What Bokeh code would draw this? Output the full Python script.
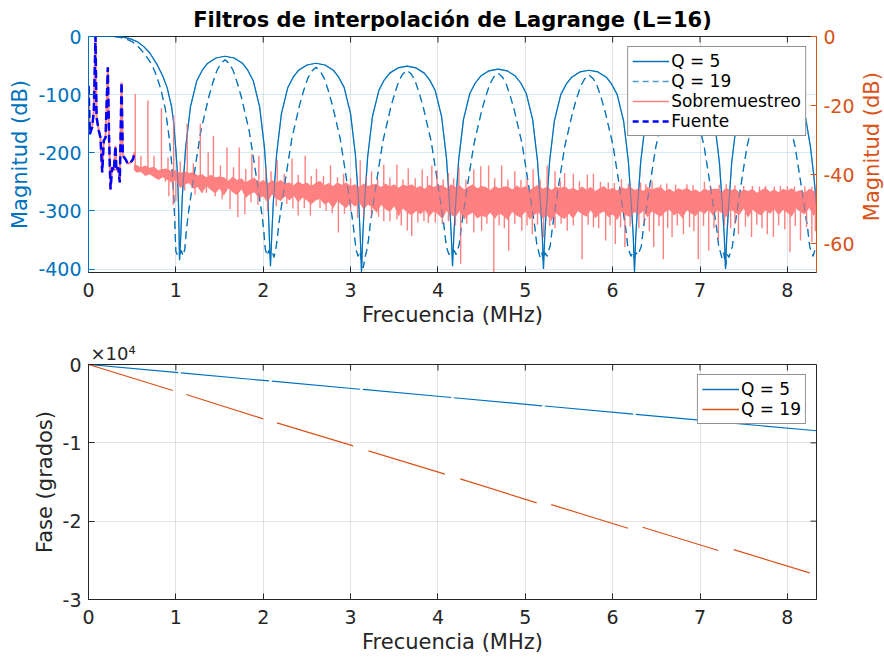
import numpy as np
from bokeh.plotting import figure
from bokeh.models import (Range1d, LinearAxis, FixedTicker, Grid, Legend, LegendItem,
                          CustomJSTickFormatter, Label)
from bokeh.layouts import column, row
from bokeh.embed import file_html
from bokeh.resources import INLINE

FONT = "DejaVu Sans"
BLUE = "#0072BD"
ORANGE = "#D95319"
DARK = "#262626"
PINK = "#FF8080"
NAN = float("nan")

# ---------------- data ----------------
title_text = "Filtros de interpolación de Lagrange (L=16)"
x_ticks = [0, 1, 2, 3, 4, 5, 6, 7, 8]
mag_ticks_left = [-400, -300, -200, -100, 0]
mag_ticks_right = [-60, -40, -20, 0]
phase_ticks = [-30000, -20000, -10000, 0]

# Q = 5 magnitude (dB), main lobe + 7 side lobes
q5_x = [0.0, 0.3, 0.4, 0.48, 0.56, 0.63, 0.7, 0.78, 0.85, 0.9, 0.95, 0.975, 1.0, 1.02, 1.032,
        1.042, 1.056, 1.073, 1.112, 1.167, 1.240, 1.302, 1.365, 1.459, 1.563, 1.667, 1.761, 1.823, 1.886, 1.959, 2.014, 2.053, 2.070,
        2.083, 2.097, 2.114, 2.153, 2.208, 2.281, 2.343, 2.406, 2.500, 2.604, 2.708, 2.802, 2.864, 2.927, 3.000, 3.055, 3.094, 3.111,
        3.125, 3.139, 3.156, 3.195, 3.250, 3.323, 3.385, 3.448, 3.542, 3.646, 3.750, 3.844, 3.906, 3.969, 4.042, 4.097, 4.136, 4.153,
        4.167, 4.181, 4.198, 4.237, 4.292, 4.365, 4.427, 4.490, 4.584, 4.688, 4.792, 4.886, 4.948, 5.011, 5.084, 5.139, 5.178, 5.195,
        5.208, 5.222, 5.239, 5.278, 5.333, 5.406, 5.468, 5.531, 5.625, 5.729, 5.833, 5.927, 5.989, 6.052, 6.125, 6.180, 6.219, 6.236,
        6.250, 6.264, 6.281, 6.320, 6.375, 6.448, 6.510, 6.573, 6.667, 6.771, 6.875, 6.969, 7.031, 7.094, 7.167, 7.222, 7.261, 7.278,
        7.292, 7.306, 7.323, 7.362, 7.417, 7.490, 7.552, 7.615, 7.709, 7.813, 7.917, 8.011, 8.073, 8.136, 8.209, 8.264, 8.303, 8.333]
q5_db = [0, 0, -1, -4, -9, -17, -28, -47, -68, -88, -120, -148, -195, -240, -300,
         -385, -345, -277, -191, -121, -76, -58, -46, -37, -34, -37, -46, -58, -76, -121, -191, -277, -345,
         -395, -345, -289, -203, -133, -88, -70, -58, -49, -46, -49, -58, -70, -88, -133, -203, -289, -345,
         -405, -345, -294, -208, -138, -93, -75, -63, -54, -51, -54, -63, -75, -93, -138, -208, -294, -345,
         -395, -345, -299, -213, -143, -98, -80, -68, -59, -56, -59, -68, -80, -98, -143, -213, -299, -345,
         -400, -345, -301, -215, -145, -100, -82, -70, -61, -58, -61, -70, -82, -100, -145, -215, -301, -345,
         -405, -345, -303, -217, -147, -102, -84, -72, -63, -60, -63, -72, -84, -102, -147, -217, -303, -345,
         -400, -345, -304, -218, -148, -103, -85, -73, -64, -61, -64, -73, -85, -103, -140, -190, -240, -290]

# Q = 19 magnitude (dB)
q19_x = [0.0, 0.25, 0.35, 0.43, 0.5, 0.56, 0.62, 0.68, 0.73, 0.78, 0.83, 0.88, 0.92, 0.95, 0.975, 0.99, 1.0, 1.02,
         1.042, 1.062, 1.082, 1.102, 1.120, 1.142, 1.198, 1.242, 1.287, 1.332, 1.375, 1.422, 1.469, 1.512, 1.563, 1.614, 1.657, 1.704, 1.751, 1.794, 1.839, 1.884, 1.928, 1.984, 2.006, 2.024, 2.044, 2.064,
         2.083, 2.103, 2.123, 2.143, 2.161, 2.183, 2.239, 2.283, 2.328, 2.373, 2.416, 2.463, 2.510, 2.553, 2.604, 2.655, 2.698, 2.745, 2.792, 2.835, 2.880, 2.925, 2.969, 3.025, 3.047, 3.065, 3.085, 3.105,
         3.125, 3.145, 3.165, 3.185, 3.203, 3.225, 3.281, 3.325, 3.370, 3.415, 3.458, 3.505, 3.552, 3.595, 3.646, 3.697, 3.740, 3.787, 3.834, 3.877, 3.922, 3.967, 4.011, 4.067, 4.089, 4.107, 4.127, 4.147,
         4.167, 4.187, 4.207, 4.227, 4.245, 4.267, 4.323, 4.367, 4.412, 4.457, 4.500, 4.547, 4.594, 4.637, 4.688, 4.739, 4.782, 4.829, 4.876, 4.919, 4.964, 5.009, 5.053, 5.109, 5.131, 5.149, 5.169, 5.189,
         5.208, 5.228, 5.248, 5.268, 5.286, 5.308, 5.364, 5.408, 5.453, 5.498, 5.541, 5.588, 5.635, 5.678, 5.729, 5.780, 5.823, 5.870, 5.917, 5.960, 6.005, 6.050, 6.094, 6.150, 6.172, 6.190, 6.210, 6.230,
         6.250, 6.270, 6.290, 6.310, 6.328, 6.350, 6.406, 6.450, 6.495, 6.540, 6.583, 6.630, 6.677, 6.720, 6.771, 6.822, 6.865, 6.912, 6.959, 7.002, 7.047, 7.092, 7.136, 7.192, 7.214, 7.232, 7.252, 7.272,
         7.292, 7.312, 7.332, 7.352, 7.370, 7.392, 7.448, 7.492, 7.537, 7.582, 7.625, 7.672, 7.719, 7.762, 7.813, 7.864, 7.907, 7.954, 8.001, 8.044, 8.089, 8.134, 8.178, 8.234, 8.256, 8.274, 8.294, 8.314, 8.333]
q19_db = [0, 0, -1, -4, -9, -16, -26, -38, -50, -68, -92, -125, -170, -215, -270, -330, -370, -376,
          -378, -368, -377, -366, -334, -305, -248, -205, -162, -133, -105, -80, -59, -47, -40, -47, -59, -80, -105, -133, -162, -205, -248, -305, -334, -366, -377, -368,
          -375, -370, -380, -367, -347, -318, -261, -218, -175, -146, -118, -93, -72, -60, -53, -60, -72, -93, -118, -146, -175, -218, -261, -318, -347, -368, -378, -370,
          -385, -398, -380, -368, -352, -323, -266, -223, -180, -151, -123, -98, -77, -65, -58, -65, -77, -98, -123, -151, -180, -223, -266, -323, -352, -367, -375, -370,
          -372, -368, -375, -366, -357, -328, -271, -228, -185, -156, -128, -103, -82, -70, -63, -70, -82, -103, -128, -156, -185, -228, -271, -328, -357, -368, -380, -372,
          -385, -372, -378, -368, -360, -331, -274, -231, -188, -159, -131, -106, -85, -73, -66, -73, -85, -106, -131, -159, -188, -231, -274, -331, -360, -370, -378, -372,
          -380, -372, -376, -368, -361, -332, -275, -232, -189, -160, -132, -107, -86, -74, -67, -74, -86, -107, -132, -160, -189, -232, -275, -332, -361, -370, -382, -372,
          -395, -375, -380, -368, -362, -333, -276, -233, -190, -161, -133, -108, -87, -75, -68, -75, -87, -108, -133, -161, -190, -233, -276, -333, -362, -370, -378, -368, -372]

# Fuente (source spectrum), dB
fuente_x = [0.0, 0.015, 0.042, 0.061, 0.08, 0.092, 0.118, 0.137, 0.157, 0.175, 0.195, 0.221, 0.236, 0.252,
            0.271, 0.29, 0.309, 0.32, 0.34, 0.358, 0.378, 0.393, 0.423, 0.45, 0.48, 0.51, 0.526]
fuente_db = [-85, -168, -156, -128, 0, -139, -162, -174, -234, -179, -174, -53, -179, -263,
             -225, -231, -188, -231, -225, -251, -79, -205, -211, -219, -217, -211, -199]

# Sobremuestreo: dense noise band (ragged upper / lower edge), plus spikes
band_x = [0.52,
          0.55, 0.60, 0.65, 0.70, 0.75, 0.80, 0.85, 0.90, 0.95, 1.00, 1.05, 1.10, 1.15, 1.20, 1.25, 1.30, 1.35, 1.40, 1.45, 1.50,
          1.55, 1.60, 1.65, 1.70, 1.75, 1.80, 1.85, 1.90, 1.95, 2.00, 2.05, 2.10, 2.15, 2.20, 2.25, 2.30, 2.35, 2.40, 2.45, 2.50,
          2.55, 2.60, 2.65, 2.70, 2.75, 2.80, 2.85, 2.90, 2.95, 3.00, 3.05, 3.10, 3.15, 3.20, 3.25, 3.30, 3.35, 3.40, 3.45, 3.50,
          3.55, 3.60, 3.65, 3.70, 3.75, 3.80, 3.85, 3.90, 3.95, 4.00, 4.05, 4.10, 4.15, 4.20, 4.25, 4.30, 4.35, 4.40, 4.45, 4.50,
          4.55, 4.60, 4.65, 4.70, 4.75, 4.80, 4.85, 4.90, 4.95, 5.00, 5.05, 5.10, 5.15, 5.20, 5.25, 5.30, 5.35, 5.40, 5.45, 5.50,
          5.55, 5.60, 5.65, 5.70, 5.75, 5.80, 5.85, 5.90, 5.95, 6.00, 6.05, 6.10, 6.15, 6.20, 6.25, 6.30, 6.35, 6.40, 6.45, 6.50,
          6.55, 6.60, 6.65, 6.70, 6.75, 6.80, 6.85, 6.90, 6.95, 7.00, 7.05, 7.10, 7.15, 7.20, 7.25, 7.30, 7.35, 7.40, 7.45, 7.50,
          7.55, 7.60, 7.65, 7.70, 7.75, 7.80, 7.85, 7.90, 7.95, 8.00, 8.05, 8.10, 8.15, 8.20, 8.25, 8.30, 8.333]
band_hi = [-221,
           -221, -225, -222, -226, -224, -230, -228, -227, -232, -230, -235, -232, -235, -233, -239, -237, -242, -238, -242, -241,
           -242, -248, -241, -247, -244, -251, -246, -243, -251, -247, -253, -247, -251, -247, -253, -251, -256, -249, -254, -251,
           -257, -252, -248, -256, -252, -257, -251, -255, -251, -257, -254, -259, -253, -257, -254, -254, -259, -253, -258, -254,
           -260, -254, -257, -254, -260, -257, -262, -255, -259, -256, -256, -261, -254, -259, -256, -263, -258, -254, -261, -257,
           -259, -264, -257, -261, -258, -258, -263, -256, -261, -257, -264, -259, -255, -262, -258, -264, -258, -261, -257, -263,
           -260, -265, -258, -263, -259, -266, -261, -257, -264, -260, -265, -259, -262, -258, -264, -261, -266, -259, -263, -260,
           -259, -266, -262, -267, -261, -264, -260, -266, -263, -268, -261, -265, -262, -262, -267, -260, -265, -261, -268, -263,
           -266, -262, -269, -264, -260, -267, -263, -268, -262, -265, -261, -267, -264, -269, -262, -266, -265]
band_lo = [-230,
           -234, -233, -240, -237, -242, -247, -242, -247, -251, -247, -261, -255, -252, -262, -259, -270, -257, -264, -270, -262,
           -274, -261, -268, -273, -263, -278, -271, -268, -279, -275, -286, -272, -279, -283, -275, -282, -274, -286, -277, -282,
           -289, -282, -279, -289, -285, -296, -283, -290, -295, -286, -293, -286, -298, -289, -295, -303, -290, -297, -302, -292,
           -310, -296, -303, -308, -300, -306, -299, -310, -301, -306, -314, -300, -307, -311, -300, -315, -307, -303, -313, -308,
           -311, -303, -314, -304, -309, -316, -302, -308, -312, -301, -315, -307, -303, -313, -308, -318, -304, -310, -314, -305,
           -314, -300, -306, -310, -299, -313, -305, -301, -311, -306, -316, -302, -307, -311, -302, -307, -300, -311, -301, -306,
           -310, -302, -298, -308, -303, -313, -299, -305, -309, -300, -306, -298, -309, -299, -304, -311, -297, -303, -307, -296,
           -312, -298, -304, -308, -299, -305, -297, -308, -298, -303, -310, -296, -302, -306, -295, -309, -300]

spike_up_x = [0.535, 0.60, 0.68, 0.75, 0.835, 0.91, 0.975, 1.05, 1.13, 1.20, 1.28, 1.37, 1.43, 1.51, 1.585, 1.66, 1.725, 1.80,
              1.87, 1.95, 2.03, 2.09, 2.16, 2.24, 2.33, 2.40, 2.48, 2.55, 2.61, 2.69, 2.77, 2.85, 2.92, 3.0, 3.11, 3.18,
              3.24, 3.31, 3.38, 3.45, 3.53, 3.60, 3.66, 3.74, 3.82, 3.88, 3.93, 3.99, 4.06, 4.12, 4.18, 4.24, 4.32, 4.41,
              4.49, 4.58, 4.65, 4.73, 4.80, 4.88, 4.95, 5.02, 5.09, 5.17, 5.25, 5.34, 5.40, 5.45, 5.55, 5.62, 5.71, 5.78,
              5.86, 5.95, 6.02, 6.10, 6.18, 6.32, 6.38, 6.45, 6.55, 6.62, 6.72, 6.85, 6.92, 7.05, 7.12, 7.22, 7.30, 7.40,
              7.50, 7.60, 7.68, 7.75, 7.85, 7.92, 8.00, 8.08, 8.20, 8.28]
spike_up_db = [-99, -205, -110, -205, -123, -208, -136, -215, -150, -218, -150, -199, -171, -222, -191, -225, -191, -228,
               -202, -205, -225, -232, -213, -236, -210, -238, -205, -240, -228, -240, -222, -242, -236, -244, -213, -240,
               -232, -245, -220, -243, -220, -246, -227, -244, -229, -240, -222, -230, -246, -235, -244, -225, -246, -229,
               -223, -222, -244, -222, -246, -232, -247, -244, -229, -246, -222, -232, -248, -235, -236, -249, -238, -236,
               -250, -251, -252, -245, -253, -251, -254, -248, -255, -253, -255, -254, -256, -250, -256, -255, -254, -256,
               -257, -257, -258, -257, -258, -257, -257, -258, -258, -259]

spike_dn_x = [0.88, 0.92, 0.97, 1.0, 1.1, 1.22, 1.35, 1.45, 1.53, 1.62, 1.71, 1.79, 1.86, 1.94, 2.05, 2.15, 2.27, 2.34,
              2.40, 2.47, 2.54, 2.65, 2.72, 2.79, 2.86, 2.93, 3.0, 3.08, 3.15, 3.24, 3.32, 3.38, 3.45, 3.53, 3.58, 3.65,
              3.70, 3.77, 3.84, 3.89, 3.97, 4.05, 4.12, 4.20, 4.26, 4.33, 4.41, 4.50, 4.56, 4.64, 4.70, 4.76, 4.81, 4.88,
              4.96, 5.02, 5.08, 5.14, 5.21, 5.28, 5.34, 5.41, 5.48, 5.55, 5.65, 5.72, 5.78, 5.84, 5.92, 5.97, 6.03, 6.09,
              6.14, 6.20, 6.30, 6.36, 6.42, 6.47, 6.53, 6.58, 6.63, 6.68, 6.74, 6.81, 6.88, 6.93, 6.98, 7.04, 7.10, 7.16,
              7.21, 7.28, 7.35, 7.40, 7.44, 7.52, 7.59, 7.65, 7.71, 7.77, 7.84, 7.90, 7.97, 8.03, 8.09, 8.15, 8.22, 8.28, 8.32]
spike_dn_db = [-250, -275, -290, -283, -265, -272, -269, -275, -280, -297, -311, -306, -285, -290, -300, -292, -288, -296,
               -308, -295, -308, -295, -300, -304, -337, -305, -300, -312, -311, -311, -310, -318, -318, -315, -325, -334,
               -343, -320, -318, -321, -320, -323, -318, -325, -391, -322, -337, -334, -322, -406, -325, -330, -368, -322,
               -334, -325, -340, -324, -346, -326, -330, -322, -334, -325, -383, -324, -328, -330, -351, -325, -357, -328,
               -362, -327, -330, -322, -335, -362, -326, -383, -330, -345, -325, -340, -328, -335, -383, -326, -368, -330,
               -351, -325, -330, -322, -340, -327, -345, -324, -330, -340, -345, -325, -332, -371, -326, -351, -328, -353, -335]

# Phase (degrees); NaN marks the gaps at the magnitude nulls
q5_phase_x = [0, 1.027, NAN, 1.057, 2.068, NAN, 2.098, 3.11, NAN, 3.14, 4.152, NAN, 4.182, 5.193, NAN,
              5.223, 6.235, NAN, 6.265, 7.277, NAN, 7.307, 8.333]
q5_phase = [0, -1042, NAN, -1073, -2099, NAN, -2129, -3157, NAN, -3187, -4214, NAN, -4245, -5271, NAN,
            -5301, -6329, NAN, -6359, -7386, NAN, -7417, -8458]
q19_phase_x = [0, 0.966, NAN, 1.118, 2.0, NAN, 2.157, 3.03, NAN, 3.205, 4.08, NAN, 4.255, 5.13, NAN,
               5.297, 6.175, NAN, 6.343, 7.21, NAN, 7.385, 8.255]
q19_phase = [0, -3320, NAN, -3830, -6935, NAN, -7450, -10380, NAN, -11020, -14000, NAN, -14600, -17660, NAN,
             -17880, -20900, NAN, -20780, -23750, NAN, -23630, -26600]

XMAX = 8.3333
TICK_PX = 6
SIDE_W = 26


# ---------------- helpers ----------------
def style_axis(ax, color):
    ax.axis_line_color = color
    ax.axis_line_width = 1
    ax.major_tick_line_color = color
    ax.major_tick_in = TICK_PX
    ax.major_tick_out = 0
    ax.minor_tick_line_color = None
    ax.major_label_text_color = color
    ax.major_label_text_font = FONT
    ax.major_label_text_font_size = "19px"
    ax.major_label_standoff = 7
    ax.axis_label_text_font = FONT
    ax.axis_label_text_font_size = "21px"
    ax.axis_label_text_font_style = "normal"
    ax.axis_label_text_color = color
    ax.axis_label_standoff = 3


def style_legend(lg):
    lg.location = "top_right"
    lg.margin = 10
    lg.padding = 4
    lg.spacing = 0
    lg.label_height = 20
    lg.glyph_height = 20
    lg.glyph_width = 37
    lg.label_standoff = 2
    lg.label_text_font = FONT
    lg.label_text_font_size = "17px"
    lg.label_text_color = "#000000"
    lg.border_line_color = DARK
    lg.border_line_width = 1
    lg.background_fill_color = "white"
    lg.background_fill_alpha = 1.0


plain_fmt = CustomJSTickFormatter(code="return tick.toFixed(0);")
xt = FixedTicker(ticks=x_ticks)

# ---------------- top: magnitude ----------------
p1 = figure(width=884 - SIDE_W, height=330, x_range=Range1d(0, XMAX), y_range=Range1d(-406, 0),
            x_axis_type=None, y_axis_type=None, output_backend="svg", toolbar_location=None,
            min_border_left=88, min_border_right=68 - SIDE_W, min_border_top=36, min_border_bottom=58)
p1.outline_line_color = DARK
p1.background_fill_color = "white"
p1.extra_y_ranges = {"right": Range1d(-68.4, 0)}

p1.title.text = title_text
p1.title.align = "center"
p1.title.text_font = FONT
p1.title.text_font_size = "21px"
p1.title.text_font_style = "bold"
p1.title.text_color = "black"

ax_b = LinearAxis(ticker=xt, axis_label="Frecuencia (MHz)", formatter=plain_fmt)
style_axis(ax_b, DARK)
ax_b.major_label_standoff = 10
p1.add_layout(ax_b, "below")
ax_l = LinearAxis(ticker=FixedTicker(ticks=mag_ticks_left), axis_label="Magnitud (dB)", formatter=plain_fmt)
style_axis(ax_l, BLUE)
p1.add_layout(ax_l, "left")
ax_r = LinearAxis(ticker=FixedTicker(ticks=mag_ticks_right), y_range_name="right", formatter=plain_fmt)
style_axis(ax_r, ORANGE)
p1.add_layout(ax_r, "right")

p1.add_layout(Grid(dimension=0, ticker=xt, grid_line_color=DARK, grid_line_alpha=0.13))
p1.add_layout(Grid(dimension=1, ticker=FixedTicker(ticks=mag_ticks_left),
                   grid_line_color=BLUE, grid_line_alpha=0.15))

# top inner tick marks (box on)
dy1 = TICK_PX * 406 / 236
p1.segment(x0=x_ticks[1:], y0=0, x1=x_ticks[1:], y1=-dy1, line_color=DARK, line_width=1)

p1.line(q5_x, q5_db, line_color=BLUE, line_width=1.2)
p1.line(q19_x, q19_db, line_color=BLUE, line_width=1.2, line_dash="8 5")

# Sobremuestreo
p1.line(fuente_x, fuente_db, line_color=PINK, line_width=2)
p1.varea(x=band_x, y1=band_lo, y2=band_hi, fill_color=PINK)
up_base = np.interp(spike_up_x, band_x, band_hi) - 1
dn_base = np.interp(spike_dn_x, band_x, band_lo) + 1
p1.segment(x0=spike_up_x, y0=up_base, x1=spike_up_x, y1=spike_up_db, line_color=PINK, line_width=1.4)
p1.segment(x0=spike_dn_x, y0=dn_base, x1=spike_dn_x, y1=spike_dn_db, line_color=PINK, line_width=1.4)

# filters seen through the semi-transparent spectrum
p1.line(q5_x, q5_db, line_color=BLUE, line_width=1.2, line_alpha=0.5)
p1.line(q19_x, q19_db, line_color=BLUE, line_width=1.2, line_dash="8 5", line_alpha=0.5)

p1.line(fuente_x, fuente_db, line_color="#0000FF", line_width=2.5, line_dash="8 4")

# legend-only renderers
lg_q5 = p1.line([NAN, NAN], [NAN, NAN], line_color=BLUE, line_width=1.4)
lg_q19 = p1.line([NAN, NAN], [NAN, NAN], line_color="#4D9BD6", line_width=1.4, line_dash="6 4")
lg_sob = p1.line([NAN, NAN], [NAN, NAN], line_color=PINK, line_width=1.4)
lg_fu = p1.line([NAN, NAN], [NAN, NAN], line_color="#0000FF", line_width=2.5, line_dash="6 4")

lg1 = Legend(items=[LegendItem(label="Q = 5", renderers=[lg_q5]),
                    LegendItem(label="Q = 19", renderers=[lg_q19]),
                    LegendItem(label="Sobremuestreo", renderers=[lg_sob]),
                    LegendItem(label="Fuente", renderers=[lg_fu])])
style_legend(lg1)
p1.add_layout(lg1)

# narrow side strip carrying the right-hand axis title (reads bottom-to-top)
side = figure(width=SIDE_W, height=330, x_range=Range1d(0, SIDE_W), y_range=Range1d(0, 330),
              x_axis_type=None, y_axis_type=None, output_backend="svg", toolbar_location=None,
              min_border=0, min_border_left=0, min_border_right=0, min_border_top=0, min_border_bottom=0)
side.outline_line_color = None
side.grid.visible = False
side.add_layout(Label(x=SIDE_W - 12.5, y=330 - 154, angle=np.pi / 2, text="Magnitud (dB)",
                      text_align="center", text_baseline="middle", text_font=FONT,
                      text_font_size="21px", text_color=ORANGE))

# ---------------- bottom: phase ----------------
p2 = figure(width=884, height=327, x_range=Range1d(0, XMAX), y_range=Range1d(-30000, 0),
            x_axis_type=None, y_axis_type=None, output_backend="svg", toolbar_location=None,
            min_border_left=88, min_border_right=68, min_border_top=34, min_border_bottom=58)
p2.outline_line_color = DARK

p2.title.text = "×10⁴"
p2.title.align = "left"
p2.title.offset = 2
p2.title.standoff = 2
p2.title.text_font = FONT
p2.title.text_font_size = "18px"
p2.title.text_font_style = "normal"
p2.title.text_color = DARK

bx_b = LinearAxis(ticker=xt, axis_label="Frecuencia (MHz)", formatter=plain_fmt)
style_axis(bx_b, DARK)
bx_b.major_label_standoff = 10
p2.add_layout(bx_b, "below")
bx_l = LinearAxis(ticker=FixedTicker(ticks=phase_ticks), axis_label="Fase (grados)",
                  formatter=CustomJSTickFormatter(code="return (tick/10000).toFixed(0);"))
style_axis(bx_l, DARK)
p2.add_layout(bx_l, "left")

p2.add_layout(Grid(dimension=0, ticker=xt, grid_line_color=DARK, grid_line_alpha=0.13))
p2.add_layout(Grid(dimension=1, ticker=FixedTicker(ticks=phase_ticks),
                   grid_line_color=DARK, grid_line_alpha=0.13))

# top and right inner tick marks (box on)
dy2 = TICK_PX * 30000 / 235
dx2 = TICK_PX * XMAX / 728
p2.segment(x0=x_ticks[1:], y0=0, x1=x_ticks[1:], y1=-dy2, line_color=DARK, line_width=1)
p2.segment(x0=XMAX, y0=phase_ticks[1:3], x1=XMAX - dx2, y1=phase_ticks[1:3], line_color=DARK, line_width=1)

p2.line(q5_phase_x, q5_phase, line_color=BLUE, line_width=1.2)
p2.line(q19_phase_x, q19_phase, line_color=ORANGE, line_width=1.2)

lg_p5 = p2.line([NAN, NAN], [NAN, NAN], line_color=BLUE, line_width=1.4)
lg_p19 = p2.line([NAN, NAN], [NAN, NAN], line_color=ORANGE, line_width=1.4)
lg2 = Legend(items=[LegendItem(label="Q = 5", renderers=[lg_p5]),
                    LegendItem(label="Q = 19", renderers=[lg_p19])])
style_legend(lg2)
p2.add_layout(lg2)

layout = column(row(p1, side, spacing=0), p2, spacing=0)
open("out.html", "w").write(file_html(layout, INLINE))
